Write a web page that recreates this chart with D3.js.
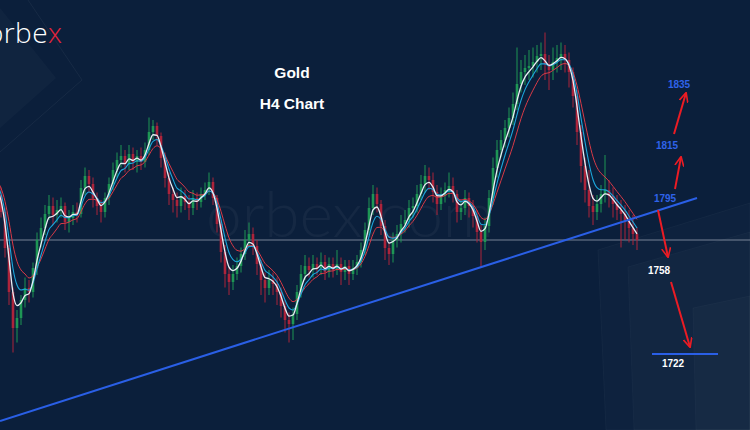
<!DOCTYPE html>
<html><head><meta charset="utf-8">
<script src="https://cdn.jsdelivr.net/npm/d3@7"></script>
<style>html,body{margin:0;padding:0;background:#0b1f3b;overflow:hidden}</style>
</head><body>
<script>
// ---------- DATA (Gold, H4 candles) ----------
const warmupCloses = [1800, 1798, 1795, 1792, 1790];
const opens = [1790.0,1783.2,1768.8,1751.2,1736.8,1740.8,1748.0,1752.8,1751.2,1760.8,
1772.0,1776.8,1782.4,1785.6,1782.0,1784.0,1785.6,1779.2,1780.8,1783.2,
1782.4,1792.8,1797.6,1794.4,1788.8,1785.6,1783.2,1788.8,1794.4,1800.0,
1804.0,1805.6,1802.4,1806.4,1803.2,1805.6,1803.2,1808.0,1815.2,1817.6,
1813.6,1804.8,1796.8,1790.4,1788.0,1785.6,1789.6,1787.2,1784.8,1788.8,
1787.2,1790.4,1792.0,1795.2,1788.8,1778.4,1767.2,1758.4,1755.2,1758.4,
1761.6,1766.4,1772.0,1774.4,1769.6,1762.4,1756.0,1752.8,1756.0,1754.4,
1751.2,1745.6,1740.0,1738.4,1742.4,1751.2,1758.4,1761.6,1760.0,1762.4,
1760.8,1763.2,1759.2,1762.4,1760.0,1762.4,1759.2,1761.6,1758.4,1760.8,
1763.2,1768.0,1776.0,1784.8,1790.4,1786.4,1777.6,1768.8,1766.4,1772.0,
1774.4,1778.4,1780.0,1784.8,1785.6,1790.4,1794.4,1797.6,1796.0,1791.2,
1786.4,1789.6,1792.0,1793.6,1790.4,1783.2,1784.8,1788.8,1785.6,1781.6,
1775.2,1771.2,1777.6,1788.8,1800.8,1808.0,1812.0,1816.8,1820.8,1826.4,
1834.4,1839.2,1840.8,1841.6,1843.2,1845.6,1846.4,1842.4,1840.0,1843.2,
1844.8,1846.4,1844.0,1839.2,1829.6,1815.2,1801.6,1792.0,1785.6,1783.2,
1786.4,1790.4,1792.0,1789.6,1786.4,1784.0,1782.4,1780.0,1776.8,1774.4];
const highs = [1793,1785,1770,1753,1744,1750,1757,1756,1763,1775,
1781,1786,1790,1789,1788,1789,1787,1784,1786,1787,
1796,1801,1800,1797,1791,1788,1791,1797,1803,1807,
1810,1808,1810,1809,1808,1809,1811,1821,1820,1819,
1815,1807,1799,1793,1791,1793,1792,1790,1792,1791,
1793,1795,1799,1797,1790,1780,1770,1761,1762,1765,
1769,1776,1779,1777,1772,1764,1759,1760,1759,1757,
1753,1748,1743,1745,1754,1762,1766,1765,1766,1765,
1767,1766,1765,1765,1768,1765,1764,1764,1764,1766,
1771,1779,1789,1794,1793,1788,1780,1771,1775,1778,
1782,1784,1788,1789,1794,1798,1802,1801,1799,1794,
1793,1795,1799,1797,1792,1788,1792,1791,1788,1784,
1778,1781,1792,1805,1812,1816,1820,1825,1831,1849,
1844,1846,1848,1849,1850,1851,1855,1846,1849,1850,
1851,1850,1847,1841,1832,1818,1805,1800,1790,1790,
1794,1806,1796,1793,1790,1788,1786,1784,1782,1777];
const lows = [1781,1765,1746,1727,1731,1738,1745,1747,1749,1758,
1769,1774,1780,1778,1779,1781,1776,1775,1778,1779,
1781,1790,1791,1785,1782,1779,1781,1786,1792,1797,
1801,1799,1800,1800,1799,1800,1801,1806,1812,1810,
1801,1793,1786,1783,1781,1783,1784,1780,1782,1784,
1785,1788,1790,1786,1775,1763,1753,1750,1752,1756,
1759,1764,1769,1766,1758,1750,1747,1750,1750,1746,
1741,1735,1731,1732,1740,1749,1756,1757,1757,1758,
1758,1756,1757,1757,1758,1754,1756,1754,1756,1758,
1761,1766,1774,1782,1783,1774,1764,1762,1763,1769,
1771,1775,1777,1781,1783,1788,1791,1792,1787,1782,
1784,1787,1789,1787,1779,1780,1782,1781,1777,1771,
1761,1768,1775,1786,1797,1805,1809,1813,1818,1824,
1831,1834,1836,1837,1839,1840,1836,1832,1836,1839,
1840,1839,1833,1825,1810,1795,1787,1781,1778,1780,
1783,1787,1785,1781,1780,1769,1772,1771,1770,1768];
const closes = [1783.2,1768.8,1751.2,1736.8,1740.8,1748.0,1752.8,1751.2,1760.8,1772.0,
1776.8,1782.4,1785.6,1782.0,1784.0,1785.6,1779.2,1780.8,1783.2,1782.4,
1792.8,1797.6,1794.4,1788.8,1785.6,1783.2,1788.8,1794.4,1800.0,1804.0,
1805.6,1802.4,1806.4,1803.2,1805.6,1803.2,1808.0,1815.2,1817.6,1813.6,
1804.8,1796.8,1790.4,1788.0,1785.6,1789.6,1787.2,1784.8,1788.8,1787.2,
1790.4,1792.0,1795.2,1788.8,1778.4,1767.2,1758.4,1755.2,1758.4,1761.6,
1766.4,1772.0,1774.4,1769.6,1762.4,1756.0,1752.8,1756.0,1754.4,1751.2,
1745.6,1740.0,1738.4,1742.4,1751.2,1758.4,1761.6,1760.0,1762.4,1760.8,
1763.2,1759.2,1762.4,1760.0,1762.4,1759.2,1761.6,1758.4,1760.8,1763.2,
1768.0,1776.0,1784.8,1790.4,1786.4,1777.6,1768.8,1766.4,1772.0,1774.4,
1778.4,1780.0,1784.8,1785.6,1790.4,1794.4,1797.6,1796.0,1791.2,1786.4,
1789.6,1792.0,1793.6,1790.4,1783.2,1784.8,1788.8,1785.6,1781.6,1775.2,
1771.2,1777.6,1788.8,1800.8,1808.0,1812.0,1816.8,1820.8,1826.4,1834.4,
1839.2,1840.8,1841.6,1843.2,1845.6,1846.4,1842.4,1840.0,1843.2,1844.8,
1846.4,1844.0,1839.2,1829.6,1815.2,1801.6,1792.0,1785.6,1783.2,1786.4,
1790.4,1792.0,1789.6,1786.4,1784.0,1782.4,1780.0,1776.8,1774.4,1772.0];
const maPeriods = [3, 5, 8];               // white, cyan, red
const titleLines = ["Gold", "H4 Chart"];
const targetUp = ["1795", "1815", "1835"];
const targetDown = ["1758", "1722"];
// trend line anchors (candle index, price)
const trendLine = [[-0.25, 1699.6], [174, 1788.8]];

// ---------- CHART ----------
const W = 750, H = 430;
const svg = d3.select("body").append("svg").attr("width", W).attr("height", H);
const defs = svg.append("defs");
defs.append("marker").attr("id","ah").attr("viewBox","0 0 10 10")
  .attr("refX",9).attr("refY",5).attr("markerWidth",5).attr("markerHeight",5)
  .attr("orient","auto").attr("markerUnits","strokeWidth")
  .append("path").attr("d","M0,0.5 L9.5,5 L0,9.5").attr("fill","none")
  .attr("stroke","#ec1c24").attr("stroke-width",1.6);

svg.append("rect").attr("width",W).attr("height",H).attr("fill","#0b1f3b");

// background decoration
const deco = svg.append("g");
deco.append("path").attr("d","M0,8 L56,78 L0,128 Z").attr("fill","rgba(255,255,255,0.025)");
deco.append("path").attr("d","M28,0 L82,80 L0,152").attr("fill","none").attr("stroke","rgba(255,255,255,0.05)");
deco.append("path").attr("d","M598,250 L750,203 L750,430 L606,430 Z").attr("fill","rgba(255,255,255,0.015)").attr("stroke","rgba(255,255,255,0.035)");
deco.append("path").attr("d","M628,267 L750,232 L750,430 L634,430 Z").attr("fill","rgba(255,255,255,0.02)").attr("stroke","rgba(255,255,255,0.03)");
deco.append("path").attr("d","M693,308 L750,296 L750,430 L696,430 Z").attr("fill","rgba(255,255,255,0.02)").attr("stroke","rgba(255,255,255,0.03)");

// watermark
svg.append("text").attr("x",206).attr("y",237).text("orbex.com")
  .attr("font-family","Lato, 'Open Sans', sans-serif").attr("font-weight",300)
  .attr("font-size",64).attr("fill","rgba(255,255,255,0.045)");

// logo (partly cut at the left edge, as in the reference)
const logo = svg.append("text").attr("x",-13).attr("y",43)
  .attr("font-family","'Open Sans', Lato, sans-serif").attr("font-weight",300)
  .attr("font-size",28).attr("letter-spacing",0.4).attr("fill","#ffffff");
logo.append("tspan").text("orbe");
logo.append("tspan").attr("fill","#e3243b").text("x");

const n = closes.length;
const x = d3.scaleLinear().domain([0, n - 1]).range([1, 637]);
const y = d3.scaleLinear().domain([1700, 1868]).range([420, 0]);

const candles = closes.map((c, i) => ({i, o: opens[i], h: highs[i], l: lows[i], c}));

// current price line
svg.append("line").attr("x1",0).attr("x2",W)
  .attr("y1",y(closes[n-1])).attr("y2",y(closes[n-1]))
  .attr("stroke","rgba(190,198,212,0.6)").attr("stroke-width",1);

// candles
const green = "#1e9655", red = "#ad243b";
const cg = svg.append("g");
cg.selectAll("line.w").data(candles).join("line")
  .attr("x1", d => x(d.i)).attr("x2", d => x(d.i))
  .attr("y1", d => y(d.h)).attr("y2", d => y(d.l))
  .attr("stroke", d => d.c >= d.o ? green : red).attr("stroke-width", 1);
cg.selectAll("rect").data(candles).join("rect")
  .attr("x", d => x(d.i) - 1.3).attr("width", 2.6)
  .attr("y", d => y(Math.max(d.o, d.c)))
  .attr("height", d => Math.max(1, Math.abs(y(d.o) - y(d.c))))
  .attr("fill", d => d.c >= d.o ? green : red);

// moving averages
function ema(vals, p) {
  const a = 2 / (p + 1); let e = vals[0];
  return vals.map((v, k) => k === 0 ? e : (e = a * v + (1 - a) * e));
}
const allCloses = warmupCloses.concat(closes);
const off = warmupCloses.length;
const maColors = ["#e9eef4", "#1da7dc", "#d83a47"];
const maWidths = [1.3, 1.1, 1.0];
const line = d3.line().x(d => x(d[0])).y(d => y(d[1])).curve(d3.curveMonotoneX);
[2, 1, 0].forEach(k => {
  const vals = ema(allCloses, maPeriods[k]).map((v, j) => [j - off, v]);
  svg.append("path").attr("d", line(vals)).attr("fill","none")
    .attr("stroke", maColors[k]).attr("stroke-width", maWidths[k]);
});

// trend line
svg.append("line")
  .attr("x1", x(trendLine[0][0])).attr("y1", y(trendLine[0][1]))
  .attr("x2", x(trendLine[1][0])).attr("y2", y(trendLine[1][1]))
  .attr("stroke","#2a5fe6").attr("stroke-width",2);

// 1722 target line
svg.append("line").attr("x1", x(162.75)).attr("x2", x(179.25))
  .attr("y1", y(1726.4)).attr("y2", y(1726.4))
  .attr("stroke","#2a5fe6").attr("stroke-width",2);

// arrows
const arrows = [
  [[168.5,1792.4],[170,1805.2]],
  [[168.25,1814.4],[171.25,1830.8]],
  [[164.25,1784],[166.75,1765.2]],
  [[167.5,1755.2],[172.25,1729.2]]
];
arrows.forEach(a => {
  svg.append("line").attr("x1",x(a[0][0])).attr("y1",y(a[0][1]))
    .attr("x2",x(a[1][0])).attr("y2",y(a[1][1]))
    .attr("stroke","#ec1c24").attr("stroke-width",2).attr("marker-end","url(#ah)");
});

// labels
const lblFont = "'Liberation Sans', Arial, sans-serif";
const upPos = [[166,1787.2],[166.5,1808.4],[169.5,1832.8]];
targetUp.forEach((t, k) => svg.append("text").attr("x",x(upPos[k][0])).attr("y",y(upPos[k][1]))
  .attr("text-anchor","middle").attr("font-family",lblFont).attr("font-weight","bold")
  .attr("font-size",10).attr("fill","#2f63ea").text(t));
const dnPos = [[164.5,1758.4],[168,1721.2]];
targetDown.forEach((t, k) => svg.append("text").attr("x",x(dnPos[k][0])).attr("y",y(dnPos[k][1]))
  .attr("text-anchor","middle").attr("font-family",lblFont).attr("font-weight","bold")
  .attr("font-size",10).attr("fill","#ffffff").text(t));

// title
titleLines.forEach((t, k) => svg.append("text").attr("x",292).attr("y",78 + k*31)
  .attr("text-anchor","middle").attr("font-family",lblFont).attr("font-weight","bold")
  .attr("font-size",15.5).attr("fill","#ffffff").text(t));
</script>
</body></html>
